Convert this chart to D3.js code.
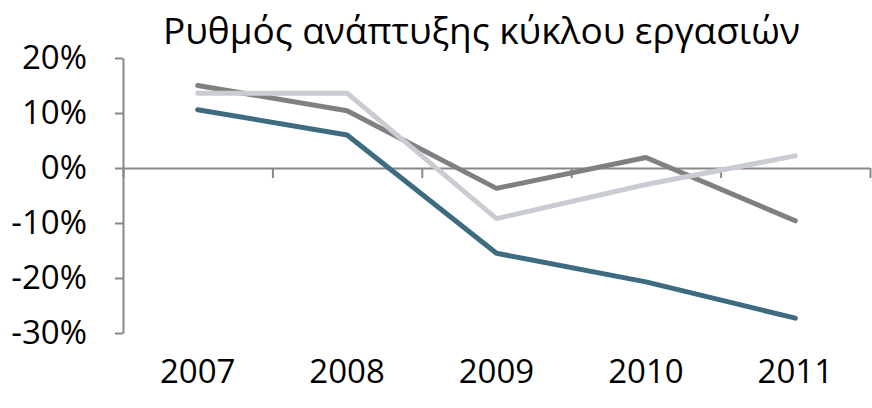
<!DOCTYPE html>
<html>
<head>
<meta charset="utf-8">
<script src="https://cdn.jsdelivr.net/npm/d3@7"></script>
<style>
  body { margin: 0; background: #fff; }
  text { font-family: "Open Sans", sans-serif; fill: #000; }
</style>
</head>
<body>
<div id="chart"></div>
<script>
// δεδομένα
var years = ["2007", "2008", "2009", "2010", "2011"];
var seriesTeal = [10.6, 6.0, -15.5, -20.7, -27.3];
var seriesDark = [15.0, 10.4, -3.7, 1.9, -9.6];
var seriesLight = [13.6, 13.6, -9.2, -3.0, 2.2];
var yTicks = [20, 10, 0, -10, -20, -30];

var width = 872, height = 408;
var plotLeft = 123, plotRight = 870, plotTop = 58, plotBottom = 333;

var svg = d3.select("#chart").append("svg")
  .attr("width", width)
  .attr("height", height);

var x = d3.scaleBand().domain(years).range([plotLeft, plotRight]).padding(0);
var xEdge = d3.scaleLinear().domain([0, years.length]).range([plotLeft, plotRight]);
var y = d3.scaleLinear().domain([-30, 20]).range([plotBottom, plotTop]);

// άξονας y
var yAxis = svg.append("g")
  .attr("transform", "translate(" + plotLeft + ",0)")
  .call(d3.axisLeft(y).tickValues(yTicks).tickSize(8).tickSizeOuter(0)
    .tickFormat(function(d) { return d + "%"; }).tickPadding(28));
yAxis.select(".domain").attr("stroke", "#888").attr("stroke-width", 2);
yAxis.selectAll(".tick line").attr("stroke", "#888").attr("stroke-width", 2);
yAxis.selectAll(".tick text")
  .style("font-size", "33px")
  .style("font-family", "'Open Sans', sans-serif")
  .attr("fill", "#000");

// άξονας x στο 0%
var xAxis = svg.append("g")
  .attr("transform", "translate(0," + y(0) + ")")
  .call(d3.axisBottom(xEdge).tickValues(d3.range(years.length + 1)).tickSize(10)
    .tickSizeOuter(0).tickFormat(""));
xAxis.select(".domain").attr("stroke", "#888").attr("stroke-width", 2);
xAxis.selectAll(".tick line").attr("stroke", "#888").attr("stroke-width", 2);

// ετικέτες ετών
svg.selectAll(".year")
  .data(years)
  .enter()
  .append("text")
  .attr("class", "year")
  .attr("x", function(d) { return x(d) + x.bandwidth() / 2; })
  .attr("y", 383)
  .attr("text-anchor", "middle")
  .style("font-size", "33px")
  .text(function(d) { return d; });

// γραμμές
var line = d3.line()
  .x(function(d, i) { return x(years[i]) + x.bandwidth() / 2; })
  .y(function(d) { return y(d); });

var series = [
  { values: seriesTeal, color: "#3d6b80" },
  { values: seriesDark, color: "#808080" },
  { values: seriesLight, color: "#c9cdd3" }
];

svg.selectAll(".series")
  .data(series)
  .enter()
  .append("path")
  .attr("class", "series")
  .attr("fill", "none")
  .attr("stroke", function(d) { return d.color; })
  .attr("stroke-width", 5)
  .attr("stroke-linecap", "round")
  .attr("stroke-linejoin", "round")
  .attr("d", function(d) { return line(d.values); });

// τίτλος
svg.append("text")
  .attr("x", 163)
  .attr("y", 44)
  .attr("textLength", 637)
  .attr("lengthAdjust", "spacingAndGlyphs")
  .style("font-size", "37px")
  .text("Ρυθμός ανάπτυξης κύκλου εργασιών");
</script>
</body>
</html>
